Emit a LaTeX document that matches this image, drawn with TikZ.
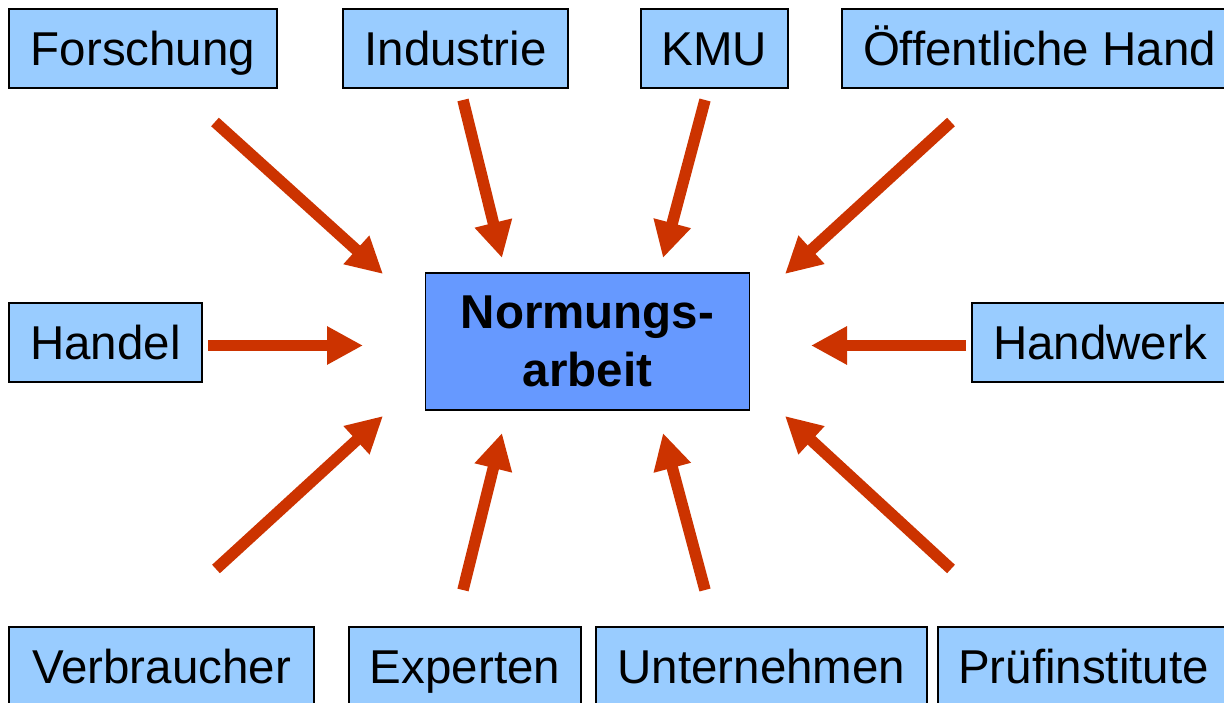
\documentclass[tikz,border=0pt]{standalone}
\usepackage{fontspec}
\setmainfont{Liberation Sans}
\usetikzlibrary{arrows.meta}
\definecolor{boxblue}{RGB}{153,204,255}
\definecolor{centerblue}{RGB}{102,153,255}
\definecolor{arrowred}{RGB}{204,51,0}
\begin{document}
\begin{tikzpicture}[x=1pt,y=-1pt,
  actor/.style={draw=black, line width=1.8pt, fill=boxblue, inner sep=0pt,
    minimum height=79pt, text height=34pt, text depth=0pt,
    font=\fontsize{47.5}{57}\selectfont},
  core/.style={draw=black, line width=1.8pt, fill=centerblue, inner sep=0pt,
    minimum width=324pt, minimum height=137pt, align=center,
    font=\fontsize{47.5}{58}\selectfont\bfseries},
  flow/.style={draw=arrowred, line width=11.5pt,
    -{Triangle[length=36pt,width=36pt]}}]
\clip (0,0) rectangle (1224,703);
\fill[white] (0,0) rectangle (1224,703);
% boxes
\node[actor, minimum width=268pt] (forschung) at (143,48.5) {Forschung};
\node[actor, minimum width=225pt] (industrie) at (455.5,48.5) {Industrie};
\node[actor, minimum width=147pt] (kmu) at (714.5,48.5) {KMU};
\node[actor, minimum width=395pt] (oeff) at (1039.5,48.5) {Öffentliche Hand};
\node[actor, minimum width=193pt] (handel) at (105.5,342.5) {Handel};
\node[actor, minimum width=256pt] (handwerk) at (1100,342.5) {Handwerk};
\node[actor, minimum width=305pt] (verbraucher) at (161.5,666.5) {Verbraucher};
\node[actor, minimum width=232pt] (experten) at (465,666.5) {Experten};
\node[actor, minimum width=331pt] (unternehmen) at (761.5,666.5) {Unternehmen};
\node[actor, minimum width=291pt] (pruef) at (1083.5,666.5) {Prüfinstitute};
\node[core] (norm) at (587.5,341.5) {Normungs-\\arbeit};
% arrow ends
\coordinate (t1) at (215,122);   \coordinate (h1) at (383,274);
\coordinate (t2) at (463,100);   \coordinate (h2) at (502,258);
\coordinate (t3) at (705,100);   \coordinate (h3) at (663,258);
\coordinate (t4) at (951,122);   \coordinate (h4) at (785,274);
\coordinate (t5) at (208,345.5); \coordinate (h5) at (363,345.5);
\coordinate (t6) at (966,345.5); \coordinate (h6) at (811,345.5);
\coordinate (t7) at (216,569);   \coordinate (h7) at (383,416);
\coordinate (t8) at (463,590);   \coordinate (h8) at (502,433);
\coordinate (t9) at (705,590);   \coordinate (h9) at (663,433);
\coordinate (t10) at (951,569);  \coordinate (h10) at (785,416);
\foreach \i in {1,...,10} {\draw[flow] (t\i) -- (h\i);}
\end{tikzpicture}
\end{document}
